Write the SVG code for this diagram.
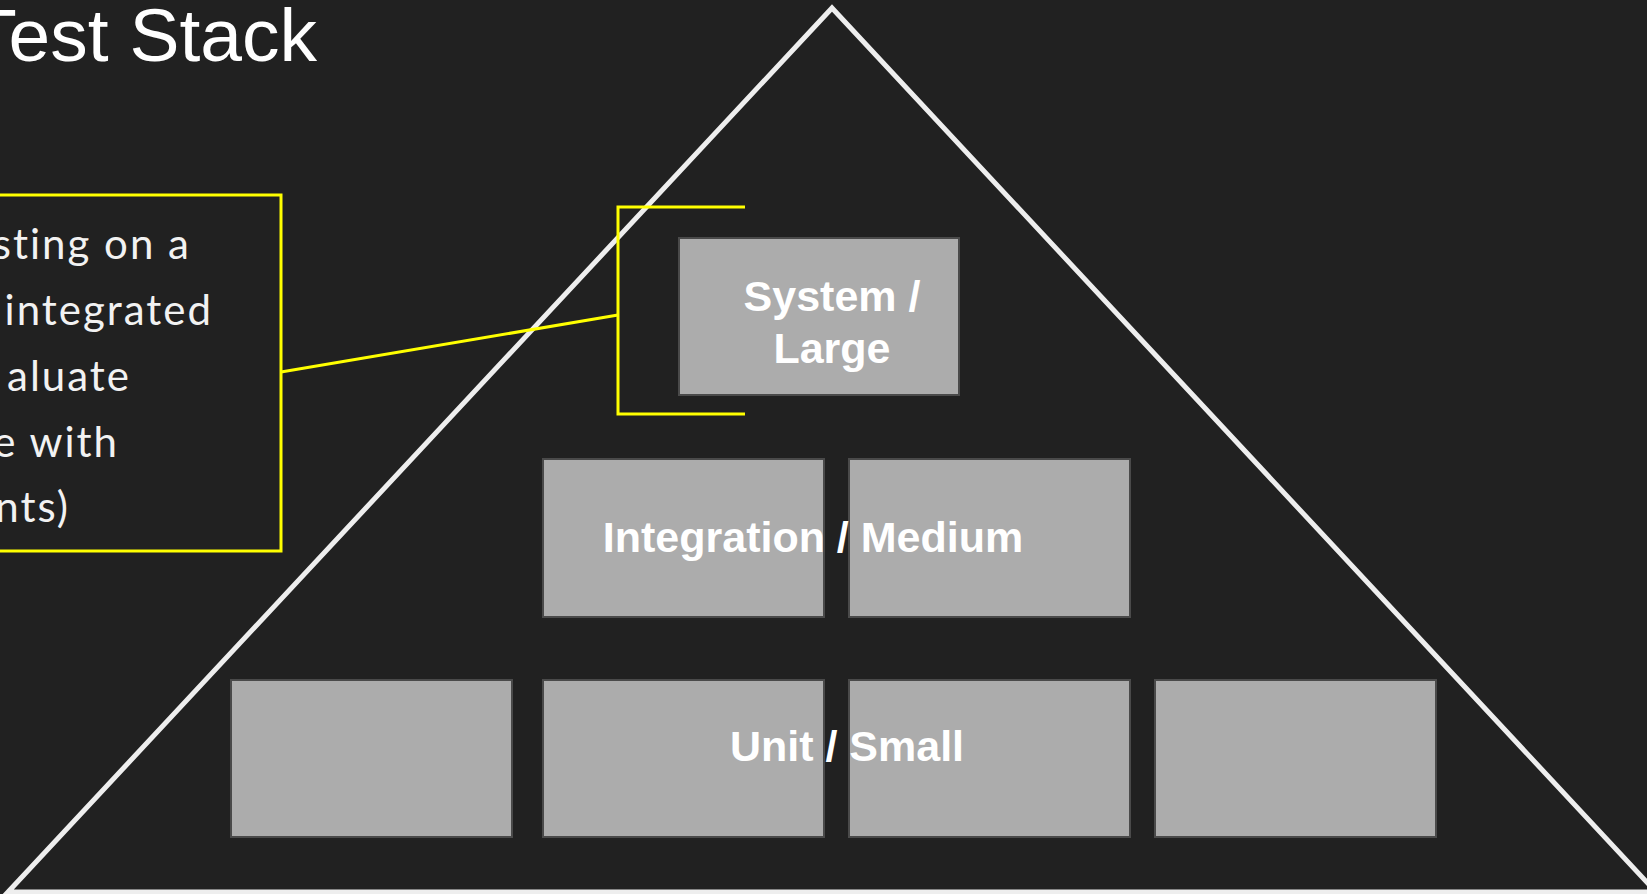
<svg xmlns="http://www.w3.org/2000/svg" width="1647" height="894" viewBox="0 0 1647 894">
<style>
.box{fill:#acacac;stroke:#4a4a4a;stroke-width:2}
.lbl{font-family:"Liberation Sans",Arial,sans-serif;font-weight:bold;font-size:43px;fill:#ffffff;text-anchor:middle}
.note{font-family:Lato,"Open Sans",sans-serif;font-size:42px;letter-spacing:2px;fill:#f2f2f2;text-anchor:end}
.yl{fill:none;stroke:#ffff00;stroke-width:3}
</style>
<rect x="0" y="0" width="1647" height="894" fill="#212121"/>
<g id="pyramid">
<polygon points="832,8 1656,892 8,892" fill="none" stroke="#eeeeee" stroke-width="5" stroke-linejoin="miter"/>
</g>
<g id="title">
<text x="317" y="61" font-family="'Liberation Sans',Arial,sans-serif" font-size="75" fill="#ffffff" text-anchor="end">Test Stack</text>
</g>
<g id="small-boxes">
<rect class="box" x="231" y="680" width="281" height="157"/>
<rect class="box" x="543" y="680" width="281" height="157"/>
<rect class="box" x="849" y="680" width="281" height="157"/>
<rect class="box" x="1155" y="680" width="281" height="157"/>
</g>
<g id="medium-boxes">
<rect class="box" x="543" y="459" width="281" height="158"/>
<rect class="box" x="849" y="459" width="281" height="158"/>
</g>
<g id="large-box">
<rect class="box" x="679" y="238" width="280" height="157"/>
</g>
<g id="callout">
<rect class="yl" x="-10" y="195" width="291" height="356"/>
<text class="note" x="191" y="259">sting on a</text>
<text class="note" x="213" y="325">integrated</text>
<text class="note" x="131" y="391">aluate</text>
<text class="note" x="119" y="457">e with</text>
<text class="note" x="70" y="522">nts)</text>
</g>
<g id="connectors">
<polyline class="yl" points="745,207 618,207 618,414 745,414"/>
<line class="yl" x1="281" y1="372" x2="618" y2="315"/>
</g>
<g id="labels">
<text class="lbl" x="832" y="311">System /</text>
<text class="lbl" x="832" y="363">Large</text>
<text class="lbl" x="813" y="552">Integration / Medium</text>
<text class="lbl" x="847" y="761">Unit / Small</text>
</g>
</svg>
